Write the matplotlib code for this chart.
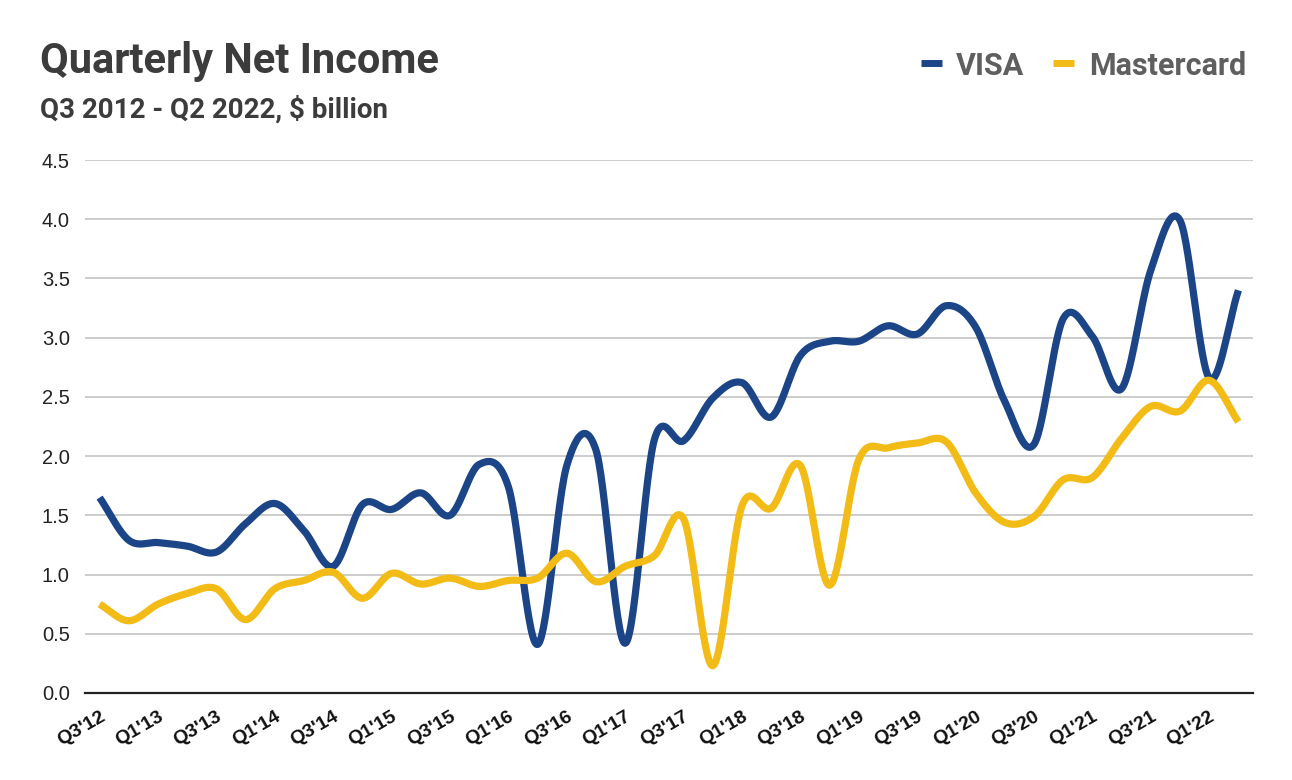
import numpy as np
import matplotlib
matplotlib.use("Agg")
import matplotlib.pyplot as plt
from matplotlib.lines import Line2D
from matplotlib.transforms import ScaledTranslation

# ---- data ----
quarters = []
for y in range(2012, 2023):
    for q in range(1, 5):
        if (y == 2012 and q < 3) or (y == 2022 and q > 2):
            continue
        quarters.append(f"Q{q}'{str(y)[2:]}")

visa = [1.65, 1.29, 1.27, 1.24, 1.19, 1.43, 1.60, 1.37, 1.07, 1.59,
        1.55, 1.69, 1.50, 1.93, 1.74, 0.41, 1.92, 2.05, 0.42, 2.14,
        2.13, 2.49, 2.62, 2.33, 2.85, 2.97, 2.97, 3.10, 3.03, 3.27,
        3.09, 2.46, 2.10, 3.16, 3.01, 2.57, 3.57, 3.99, 2.66, 3.40]
mastercard = [0.75, 0.61, 0.75, 0.84, 0.88, 0.62, 0.88, 0.95, 1.02, 0.80,
              1.01, 0.92, 0.97, 0.90, 0.95, 0.97, 1.18, 0.94, 1.07, 1.16,
              1.47, 0.23, 1.58, 1.56, 1.92, 0.91, 1.97, 2.07, 2.11, 2.12,
              1.69, 1.44, 1.49, 1.80, 1.82, 2.15, 2.42, 2.38, 2.64, 2.29]
series_names = ["VISA", "Mastercard"]
colors = ["#1c4587", "#f2bb16"]
yticks = [0.0, 0.5, 1.0, 1.5, 2.0, 2.5, 3.0, 3.5, 4.0, 4.5]


def smooth(y, n=30):
    """Catmull-Rom spline through the points (rendering only)."""
    y = np.asarray(y, dtype=float)
    x = np.arange(len(y), dtype=float)
    p = np.concatenate([[2 * y[0] - y[1]], y, [2 * y[-1] - y[-2]]])
    xs, ys = [], []
    t = np.linspace(0, 1, n, endpoint=False)
    for i in range(len(y) - 1):
        p0, p1, p2, p3 = p[i], p[i + 1], p[i + 2], p[i + 3]
        m1 = (p2 - p0) / 2
        m2 = (p3 - p1) / 2
        h00 = 2 * t**3 - 3 * t**2 + 1
        h10 = t**3 - 2 * t**2 + t
        h01 = -2 * t**3 + 3 * t**2
        h11 = t**3 - t**2
        ys.append(h00 * p1 + h10 * m1 + h01 * p2 + h11 * m2)
        xs.append(x[i] + t)
    xs.append([x[-1]])
    ys.append([y[-1]])
    return np.concatenate(xs), np.concatenate(ys)


W, H = 1292, 780
fig = plt.figure(figsize=(W / 100, H / 100), dpi=100)
fig.patch.set_facecolor("white")
ax = fig.add_axes([85 / W, 1 - 693 / H, (1253 - 85) / W, (693 - 160) / H])

for vals, c in zip([visa, mastercard], colors):
    xs, ys = smooth(vals)
    ax.plot(xs, ys, color=c, lw=5.2, solid_capstyle="butt", zorder=3)

ax.set_xlim(-0.5, len(quarters) - 0.5)
ax.set_ylim(0, 4.5)
ax.set_yticks(yticks)
ax.set_yticklabels([f"{v:.1f}" for v in yticks], fontfamily="Liberation Sans",
                   fontsize=14.5, color="#222222")
ax.set_xticks(range(0, len(quarters), 2))
ax.set_xticklabels(quarters[::2], rotation=30, ha="right", rotation_mode="anchor",
                   fontfamily="Liberation Sans", fontweight="bold", fontsize=14,
                   color="#111111")
off = ScaledTranslation(9 / 100, 0, fig.dpi_scale_trans)
for lab in ax.get_xticklabels():
    lab.set_transform(lab.get_transform() + off)
ax.tick_params(axis="both", length=0)
ax.tick_params(axis="y", pad=11)
ax.tick_params(axis="x", pad=11)
ax.grid(axis="y", color="#cccccc", lw=1.4, zorder=0)
ax.set_axisbelow(True)
for s in ["top", "right", "left"]:
    ax.spines[s].set_visible(False)
ax.spines["bottom"].set_color("#222222")
ax.spines["bottom"].set_linewidth(1.6)
ax.spines["bottom"].set_zorder(4)

fig.text(40 / W, 1 - 73 / H, "Quarterly Net Income", fontfamily="Roboto",
         fontweight="bold", fontsize=30, color="#3c3c3c", ha="left", va="baseline")
fig.text(40 / W, 1 - 118 / H, "Q3 2012 - Q2 2022, $ billion", fontfamily="Roboto",
         fontweight="bold", fontsize=20, color="#3c3c3c", ha="left", va="baseline")

# legend
leg_items = [(921, 942, 956, series_names[0], colors[0]),
             (1053, 1074, 1089, series_names[1], colors[1])]
for x0, x1, tx, name, c in leg_items:
    fig.add_artist(Line2D([x0 / W, x1 / W], [1 - 63 / H, 1 - 63 / H], color=c,
                          lw=5, solid_capstyle="butt", transform=fig.transFigure))
    fig.text(tx / W, 1 - 63 / H, name, fontfamily="Roboto", fontweight="bold",
             fontsize=22, color="#5f5f5f", ha="left", va="center_baseline")

fig.savefig("out.png", dpi=100, facecolor="white")
